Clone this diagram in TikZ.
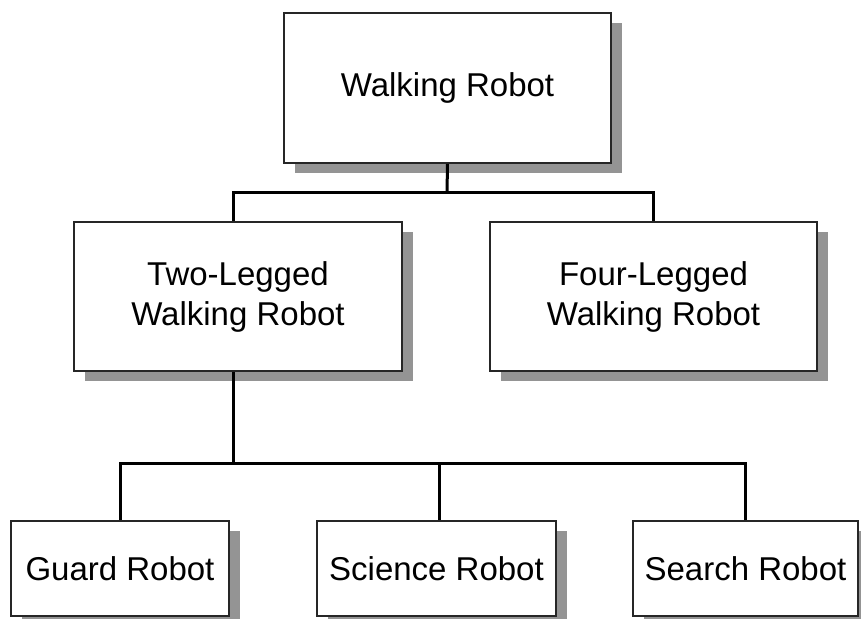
\documentclass[tikz,border=0pt]{standalone}
\usepackage{fontspec}
\setmainfont{Liberation Sans}
\usetikzlibrary{shadows}
\begin{document}
\begin{tikzpicture}[x=1pt,y=1pt,
  box/.style={draw=black!85, line width=1.6pt, fill=white, align=center,
    inner sep=0pt, font=\fontsize{33}{40}\selectfont,
    drop shadow={shadow xshift=11pt, shadow yshift=-10pt, fill=black!42, opacity=1}},
  link/.style={draw=black, line width=3pt}]
\path[use as bounding box] (0,0) rectangle (861,618);
\node[box, minimum width=327pt, minimum height=150pt] (top) at (447.5,530) {Walking Robot};
\node[box, minimum width=328pt, minimum height=149pt] (two) at (238,321.5) {Two-Legged\\Walking Robot};
\node[box, minimum width=327pt, minimum height=149pt] (four) at (653.5,321.5) {Four-Legged\\Walking Robot};
\node[box, minimum width=218pt, minimum height=95pt] (guard) at (120,49.5) {Guard Robot};
\node[box, minimum width=239pt, minimum height=95pt] (sci) at (436.5,49.5) {Science Robot};
\node[box, minimum width=225pt, minimum height=95pt] (search) at (745.5,49.5) {Search Robot};
\coordinate (j1) at (447,425);
\coordinate (j2) at (233,154);
\draw[link] (top.south) -- (j1);
\draw[link] ([xshift=-5pt]two.north) |- (j1) -| (four.north);
\draw[link] ([xshift=-5pt]two.south) -- (j2);
\draw[link] (guard.north) |- (j2) -| (search.north);
\draw[link] ([xshift=2.5pt]sci.north) -- ([xshift=2.5pt]sci.north |- j2);
\end{tikzpicture}
\end{document}
